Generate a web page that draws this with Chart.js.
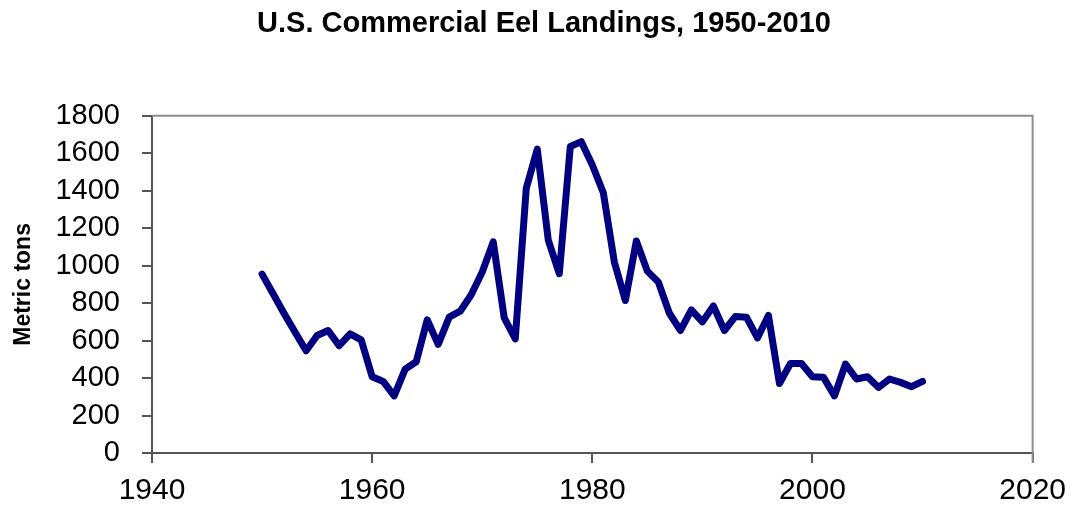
<!DOCTYPE html>
<html>
<head>
<meta charset="utf-8">
<script src="https://cdn.jsdelivr.net/npm/chart.js@4"></script>
<style>
  html, body { margin: 0; padding: 0; background: #fff; }
  #wrap { width: 1076px; height: 510px; }
</style>
</head>
<body>
<div id="wrap"><canvas id="eels"></canvas></div>
<script>
// years and landings (metric tons)
const years = [1950, 1951, 1952, 1953, 1954, 1955, 1956, 1957, 1958, 1959,
  1960, 1961, 1962, 1963, 1964, 1965, 1966, 1967, 1968, 1969,
  1970, 1971, 1972, 1973, 1974, 1975, 1976, 1977, 1978, 1979,
  1980, 1981, 1982, 1983, 1984, 1985, 1986, 1987, 1988, 1989,
  1990, 1991, 1992, 1993, 1994, 1995, 1996, 1997, 1998, 1999,
  2000, 2001, 2002, 2003, 2004, 2005, 2006, 2007, 2008, 2009, 2010];
const tons = [955, 850, 745, 645, 546, 627, 654, 573, 636, 604,
  407, 382, 305, 448, 487, 711, 580, 725, 757, 845,
  966, 1127, 721, 609, 1413, 1622, 1136, 957, 1636, 1662,
  1537, 1389, 1020, 814, 1132, 971, 912, 746, 654, 764,
  700, 785, 654, 729, 725, 614, 734, 371, 478, 478,
  407, 404, 305, 475, 395, 407, 350, 395, 377, 354, 382];

const yTicks = [0, 200, 400, 600, 800, 1000, 1200, 1400, 1600, 1800];
const xTicks = [1940, 1960, 1980, 2000, 2020];

const FAMILY = 'Liberation Sans, Arial, sans-serif';

// grey frame around the plot area (top and right sides)
const frame = {
  id: 'frame',
  afterDraw(chart) {
    const { ctx, chartArea: a } = chart;
    ctx.save();
    ctx.strokeStyle = '#8c8c8c';
    ctx.lineWidth = 2;
    ctx.beginPath();
    ctx.moveTo(a.left, a.top);
    ctx.lineTo(a.right, a.top);
    ctx.lineTo(a.right, a.bottom + 10);
    ctx.stroke();
    ctx.restore();
  }
};

new Chart(document.getElementById('eels'), {
  type: 'line',
  data: {
    datasets: [{
      label: 'Metric tons',
      data: years.map((yr, i) => ({ x: yr, y: tons[i] })),
      borderColor: '#000080',
      borderWidth: 7,
      borderCapStyle: 'round',
      borderJoinStyle: 'round',
      pointRadius: 0,
      tension: 0,
      fill: false
    }]
  },
  options: {
    responsive: true,
    maintainAspectRatio: false,
    animation: false,
    // left padding shifts the title centre to match the original
    layout: { padding: { left: 54, right: 42, top: 0, bottom: 0 } },
    plugins: {
      legend: { display: false },
      tooltip: { enabled: false },
      title: {
        display: true,
        text: 'U.S. Commercial Eel Landings, 1950-2010',
        color: '#000',
        font: { family: FAMILY, size: 29, weight: 'bold' },
        padding: { top: 7, bottom: 74 }
      }
    },
    scales: {
      x: {
        type: 'linear',
        min: 1940,
        max: 2020,
        afterBuildTicks: s => { s.ticks = xTicks.map(v => ({ value: v })); },
        afterFit: s => { s.height = 57; },
        ticks: { color: '#000', font: { family: FAMILY, size: 30 }, padding: 10, maxRotation: 0,
                 autoSkip: false, callback: v => String(v) },
        grid: { drawOnChartArea: false, drawTicks: true, tickLength: 10, color: '#555', lineWidth: 2 },
        border: { color: '#555', width: 2 }
      },
      y: {
        min: 0,
        max: 1800,
        afterBuildTicks: s => { s.ticks = yTicks.map(v => ({ value: v })); },
        afterFit: s => { s.width = 98; },
        ticks: { color: '#000', font: { family: FAMILY, size: 29 }, padding: 22,
                 autoSkip: false, callback: v => String(v) },
        grid: { drawOnChartArea: false, drawTicks: true, tickLength: 10, color: '#555', lineWidth: 2 },
        border: { color: '#555', width: 2 },
        title: {
          display: true,
          text: 'Metric tons',
          color: '#000',
          font: { family: FAMILY, size: 23, weight: 'bold' },
          padding: { top: -44, bottom: 0 }
        }
      }
    }
  },
  plugins: [frame]
});
</script>
</body>
</html>
